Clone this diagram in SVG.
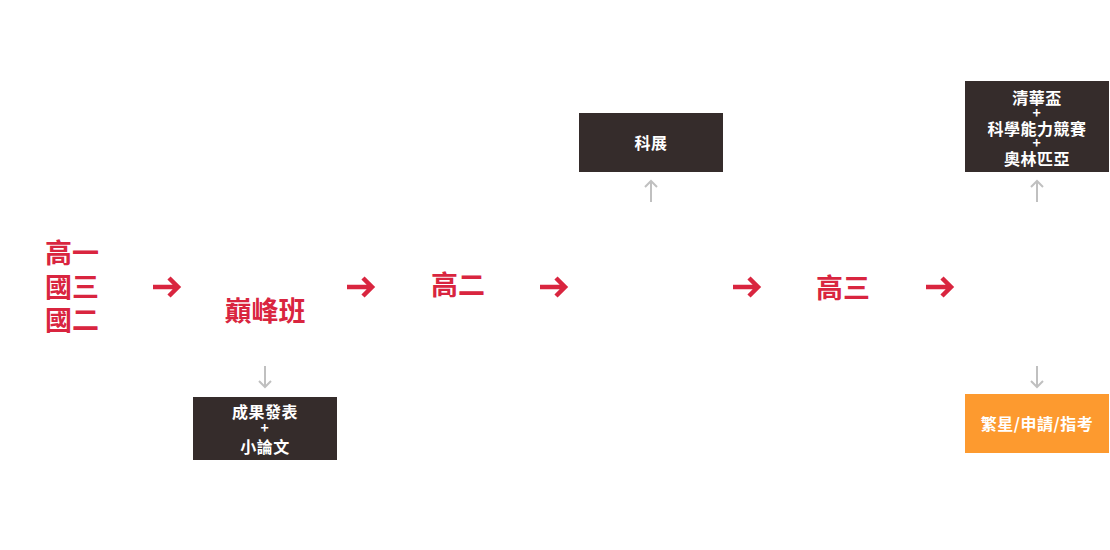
<svg xmlns="http://www.w3.org/2000/svg" width="1110" height="550" viewBox="0 0 1110 550">
<defs>
<style>
.red{fill:#d9253f;font-family:"Noto Sans CJK TC","Noto Sans CJK SC",sans-serif;font-weight:bold;font-size:27px;text-anchor:middle}
.box{fill:#352c2b}
.org{fill:#fd9a2f}
.bt{fill:#fff;font-family:"Noto Sans CJK TC","Noto Sans CJK SC",sans-serif;font-weight:bold;font-size:16px;text-anchor:middle;letter-spacing:0.5px}
.pl{font-size:14px}
.ra{fill:none;stroke:#d9253f;stroke-width:4.5}
.ga{fill:none;stroke:#c0c0c0;stroke-width:2}
</style>
<g id="ra">
<path d="M153,287 H179 M169,278 L178,287 L169,296" class="ra"/>
</g>
</defs>
<g id="connectors">
<use href="#ra"/>
<use href="#ra" x="194"/>
<use href="#ra" x="387"/>
<use href="#ra" x="580"/>
<use href="#ra" x="773"/>
<path class="ga" d="M265,366 V387 M259,381 L265,387 L271,381"/>
<path class="ga" d="M651,202 V181 M645,187 L651,181 L657,187"/>
<path class="ga" d="M1037,202 V181 M1031,187 L1037,181 L1043,187"/>
<path class="ga" d="M1037,366 V387 M1031,381 L1037,387 L1043,381"/>
</g>
<g id="start">
<text class="red" x="72" y="263">高一<tspan x="72" y="297">國三</tspan><tspan x="72" y="330">國二</tspan></text>
</g>
<g id="peak"><text class="red" x="265" y="321">巔峰班</text></g>
<g id="g2"><text class="red" x="458" y="295">高二</text></g>
<g id="g3"><text class="red" x="843" y="298">高三</text></g>
<g id="paper">
<rect class="box" x="193" y="397" width="144" height="63"/>
<text class="bt" x="265" y="418">成果發表<tspan class="pl" x="265" y="433">+</tspan><tspan x="265" y="453">小論文</tspan></text>
</g>
<g id="fair">
<rect class="box" x="579" y="113" width="144" height="59"/>
<text class="bt" x="651" y="149">科展</text>
</g>
<g id="comp">
<rect class="box" x="965" y="81" width="144" height="91"/>
<text class="bt" x="1037" y="104">清華盃<tspan class="pl" x="1037" y="118">+</tspan><tspan x="1037" y="135">科學能力競賽</tspan><tspan class="pl" x="1037" y="148">+</tspan><tspan x="1037" y="165">奧林匹亞</tspan></text>
</g>
<g id="admit">
<rect class="org" x="965" y="394" width="144" height="59"/>
<text class="bt" x="1037" y="430">繁星/申請/指考</text>
</g>
</svg>
